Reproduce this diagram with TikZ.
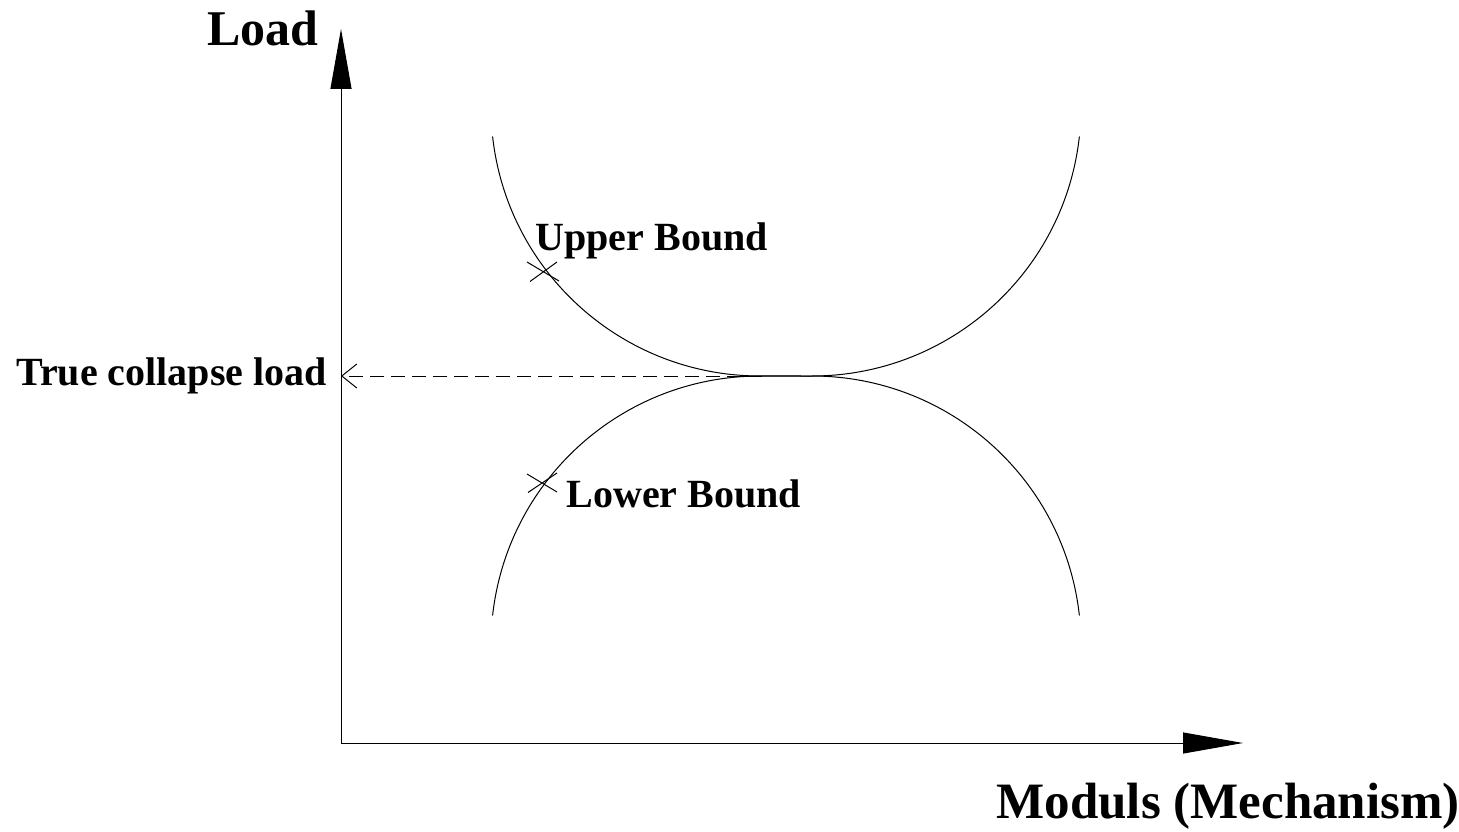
\documentclass[tikz,border=0pt]{standalone}
\usepackage{fontspec}
\setmainfont{Liberation Serif}
\usetikzlibrary{arrows.meta}

\begin{document}
\begin{tikzpicture}[x=1pt, y=-1pt, line width=1pt,
    every node/.style={font=\bfseries\fontsize{40}{48}\selectfont, inner sep=0pt},
    bigfont/.style={font=\bfseries\fontsize{50}{60}\selectfont},
    axisline/.style={-{Triangle[length=60pt,width=21pt]}},
    collapse/.style={dash pattern=on 14pt off 7pt, -{Straight Barb[length=15pt,width=24pt]}}]
  \useasboundingbox (0,0) rectangle (1459,832);

  \coordinate (O) at (341,743);
  \coordinate (ytip) at (341,29);
  \coordinate (xtip) at (1243,743);
  \coordinate (touch) at (762,376);
  \coordinate (meet) at (341,376);
  \coordinate (ubmark) at (543,271.5);
  \coordinate (lbmark) at (542,483);

  \draw[axisline] (O) -- (ytip);
  \draw[axisline] (O) -- (xtip);

  % upper and lower bound curves
  \draw (492.6,136.5) arc[start angle=173.7, end angle=90, radius=269] -- (812,376)
        arc[start angle=90, end angle=6.3, radius=269];
  \draw (492.6,615.5) arc[start angle=186.3, end angle=270, radius=269] -- (812,376)
        arc[start angle=270, end angle=353.7, radius=269];

  \draw (ubmark) +(-16,-9.5) -- +(16,9.5) (ubmark) +(-13,10) -- +(14,-9.5);
  \draw (lbmark) +(-15,-9) -- +(15,9) (lbmark) +(-14,9.5) -- +(15,-10);

  \draw[collapse] (touch) -- (meet);

  \node[bigfont, anchor=base west] (load) at (207,46) {Load};
  \node[anchor=base west] (upper) at (535,250) {Upper Bound};
  \node[anchor=base west] (lower) at (566,507) {Lower Bound};
  \node[anchor=base west] (truelbl) at (16,385) {True collapse load};
  \node[bigfont, font=\bfseries\fontsize{51}{60}\selectfont, anchor=base west] (moduls) at (996,818) {Moduls (Mechanism)};
\end{tikzpicture}
\end{document}
